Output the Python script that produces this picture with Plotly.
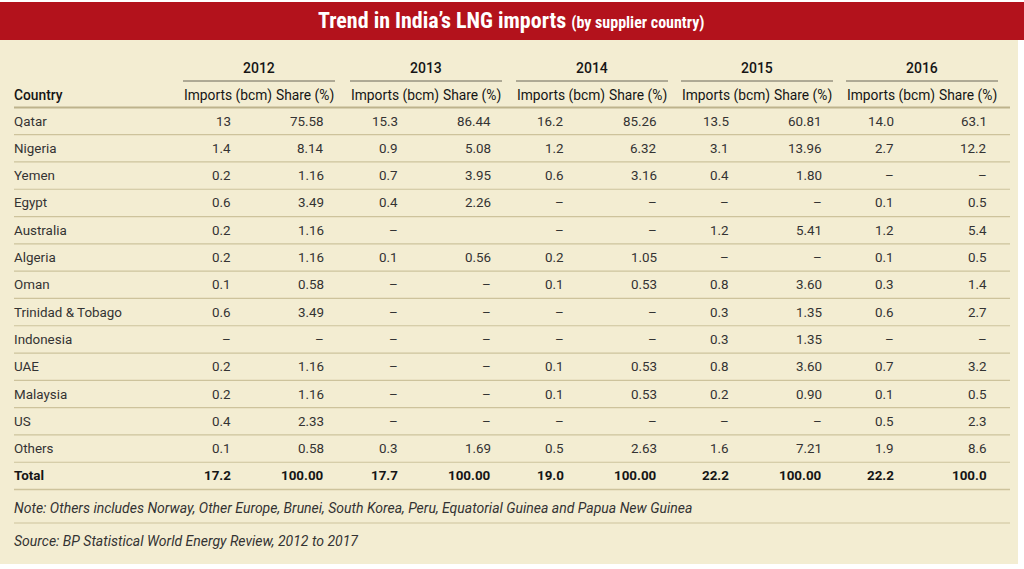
import math
import plotly.graph_objects as go

# ---------------- data ----------------
title_main = "Trend in India’s LNG imports"
title_sub = "(by supplier country)"
years = ["2012", "2013", "2014", "2015", "2016"]
col_labels = ["Imports (bcm)", "Share (%)"]
countries = ["Qatar", "Nigeria", "Yemen", "Egypt", "Australia", "Algeria", "Oman",
             "Trinidad & Tobago", "Indonesia", "UAE", "Malaysia", "US", "Others"]
NA = None            # shown as a dash
BLANK = float("nan")  # empty cell

imports_2012 = [13, 1.4, 0.2, 0.6, 0.2, 0.2, 0.1, 0.6, NA, 0.2, 0.2, 0.4, 0.1]
share_2012 = [75.58, 8.14, 1.16, 3.49, 1.16, 1.16, 0.58, 3.49, NA, 1.16, 1.16, 2.33, 0.58]
imports_2013 = [15.3, 0.9, 0.7, 0.4, NA, 0.1, NA, NA, NA, NA, NA, NA, 0.3]
share_2013 = [86.44, 5.08, 3.95, 2.26, BLANK, 0.56, NA, NA, NA, NA, NA, NA, 1.69]
imports_2014 = [16.2, 1.2, 0.6, NA, NA, 0.2, 0.1, NA, NA, 0.1, 0.1, NA, 0.5]
share_2014 = [85.26, 6.32, 3.16, NA, NA, 1.05, 0.53, NA, NA, 0.53, 0.53, NA, 2.63]
imports_2015 = [13.5, 3.1, 0.4, NA, 1.2, NA, 0.8, 0.3, 0.3, 0.8, 0.2, NA, 1.6]
share_2015 = [60.81, 13.96, 1.80, NA, 5.41, NA, 3.60, 1.35, 1.35, 3.60, 0.90, NA, 7.21]
imports_2016 = [14.0, 2.7, NA, 0.1, 1.2, 0.1, 0.3, 0.6, NA, 0.7, 0.1, 0.5, 1.9]
share_2016 = [63.1, 12.2, NA, 0.5, 5.4, 0.5, 1.4, 2.7, NA, 3.2, 0.5, 2.3, 8.6]
total_imports = [17.2, 17.7, 19.0, 22.2, 22.2]
total_share = [100.00, 100.00, 100.00, 100.00, 100.0]

note_text = "Note: Others includes Norway, Other Europe, Brunei, South Korea, Peru, Equatorial Guinea and Papua New Guinea"
source_text = "Source: BP Statistical World Energy Review, 2012 to 2017"

imports_by_year = [imports_2012, imports_2013, imports_2014, imports_2015, imports_2016]
share_by_year = [share_2012, share_2013, share_2014, share_2015, share_2016]

# ---------------- formatting / style ----------------
imp_fmt = ["g", ".1f", ".1f", ".1f", ".1f"]
shr_fmt = [".2f", ".2f", ".2f", ".2f", ".1f"]


def fmt(v, f):
    if v is None:
        return "–"
    if isinstance(v, float) and math.isnan(v):
        return ""
    return format(v, f)


W, H = 1024, 569
RED = "#b3121c"
CREAM = "#f3edd2"
RULE = "#cdc39c"
TXT = "#333333"
HEAD = "#151515"
FONT = "Roboto, 'Liberation Sans', Arial, sans-serif"
TFONT = "'Roboto Condensed', 'Liberation Sans Narrow', 'DejaVu Sans Condensed', Roboto, sans-serif"

group_x0 = [183, 350, 516, 681, 846]
group_w = 152
imp_header_w = 82

row_y0 = 121
row_h = 27.3
left_x = 12
right_x = 1010
BODY = 13.4
HSIZE = 13.8


def px(x):
    return x / W


def py(y):
    return 1 - y / H


fig = go.Figure()
shapes = []
ann = []

# backgrounds
shapes.append(dict(type="rect", xref="paper", yref="paper", x0=px(0), x1=px(W), y0=py(40), y1=py(2),
                   fillcolor=RED, line=dict(width=0), layer="below"))
shapes.append(dict(type="rect", xref="paper", yref="paper", x0=px(0), x1=px(1018), y0=py(564), y1=py(40),
                   fillcolor=CREAM, line=dict(width=0), layer="below"))


def hline(y, x0=left_x + 2, x1=right_x, color=RULE, width=1.2):
    shapes.append(dict(type="line", xref="paper", yref="paper", x0=px(x0), x1=px(x1), y0=py(y), y1=py(y),
                       line=dict(color=color, width=width)))


def text(x, y, s, anchor="left", size=BODY, color=TXT, weight=400, italic=False, family=FONT):
    ann.append(dict(xref="paper", yref="paper", x=px(x), y=py(y), text=s, showarrow=False,
                    xanchor=anchor, yanchor="middle",
                    font=dict(family=family, size=size, color=color, weight=weight,
                              style="italic" if italic else "normal")))


# title
text(511, 21, "<b>" + title_main + "</b> <span style='font-size:16px'><b>" + title_sub + "</b></span>",
     anchor="center", size=22, color="white", family=TFONT)

# header
text(left_x, 95, "Country", size=HSIZE, color=HEAD, weight=500)
for g, yr in enumerate(years):
    gx = group_x0[g]
    text(gx + group_w / 2, 68, yr, anchor="center", size=14, color=HEAD, weight=500)
    hline(81, gx, gx + group_w, color="#6a6658", width=1)
    text(gx - 1, 95, col_labels[0], anchor="left", size=HSIZE, color=HEAD)
    text(gx + group_w + 1, 95, col_labels[1], anchor="right", size=HSIZE, color=HEAD)
hline(107.5, color="#bdb38c", width=2)

# body rows
for i, c in enumerate(countries):
    y = row_y0 + i * row_h
    text(left_x, y, c)
    for g in range(len(years)):
        gx = group_x0[g]
        imp_right = gx + imp_header_w / 2 + 9
        shr_right = gx + group_w - 9
        text(imp_right, y, fmt(imports_by_year[g][i], imp_fmt[g]), anchor="right")
        text(shr_right, y, fmt(share_by_year[g][i], shr_fmt[g]), anchor="right")
    hline(y + row_h / 2)

# total row
y = row_y0 + len(countries) * row_h
text(left_x, y, "Total", color=HEAD, weight=700)
for g in range(len(years)):
    gx = group_x0[g]
    text(gx + imp_header_w / 2 + 9, y, fmt(total_imports[g], ".1f"), anchor="right", color=HEAD, weight=700)
    text(gx + group_w - 9, y, fmt(total_share[g], shr_fmt[g]), anchor="right", color=HEAD, weight=700)
hline(y + row_h / 2, width=1.5)

# notes
text(left_x, 508, note_text, italic=True, size=14)
hline(523)
text(left_x, 541, source_text, italic=True, size=14)

fig.update_layout(width=W, height=H, margin=dict(l=0, r=0, t=0, b=0),
                  paper_bgcolor="white", plot_bgcolor="white",
                  xaxis=dict(visible=False), yaxis=dict(visible=False),
                  showlegend=False, shapes=shapes, annotations=ann)
fig.write_html("out.html", config={"displayModeBar": False},
               post_script="document.body.style.margin='0';document.body.style.overflow='hidden';")
